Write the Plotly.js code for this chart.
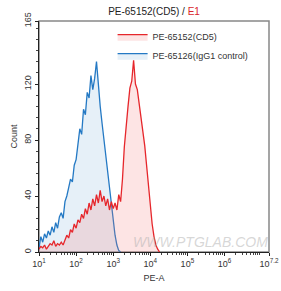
<!DOCTYPE html>
<html><head><meta charset="utf-8">
<script src="https://cdn.plot.ly/plotly-3.0.1.min.js"></script>
<style>html,body{margin:0;padding:0;background:#fff}#chart{width:281px;height:291px}</style>
</head><body><div id="chart"></div>
<script>
// bin positions (log10 of PE-A)
const redExp = [1.00,1.05,1.10,1.15,1.20,1.25,1.30,1.35,1.40,1.45,1.50,1.55,1.60,1.65,1.70,1.75,1.80,1.85,1.90,1.95,2.00,2.05,2.10,2.15,2.20,2.25,2.30,2.35,2.40,2.45,2.50,2.55,2.60,2.65,2.70,2.75,2.80,2.85,2.90,2.95,3.00,3.05,3.10,3.15,3.20,3.25,3.30,3.35,3.40,3.45,3.50,3.55,3.60,3.65,3.70,3.75,3.80,3.85,3.90,3.95,4.00,4.05,4.10,4.15,4.20,4.25];
const redCount = [2,4,3,5,2,4,6,5,8,4,6,5,7,5,9,12,10,16,14,20,17,23,21,27,24,31,27,35,30,38,33,41,35,44,36,40,33,38,30,36,31,35,30,41,36,52,75,92,104,117,122,137,120,116,106,100,86,76,62,48,32,20,11,5,2,0];
const blueExp = [1.00,1.05,1.10,1.15,1.20,1.25,1.30,1.35,1.40,1.45,1.50,1.55,1.60,1.65,1.70,1.75,1.80,1.85,1.90,1.95,2.00,2.05,2.10,2.15,2.20,2.25,2.30,2.35,2.40,2.45,2.50,2.55,2.60,2.65,2.70,2.75,2.80,2.85,2.90,2.95,3.00,3.05,3.10,3.15,3.20];
const blueCount = [3,11,7,13,10,15,12,18,14,21,17,25,28,24,36,40,46,52,50,62,66,78,88,84,102,98,114,110,126,116,124,136,118,104,92,80,72,60,46,34,22,12,5,1,0];
const redName = 'PE-65152(CD5)';
const blueName = 'PE-65126(IgG1 control)';
const xTickExp = [1,2,3,4,5,6,7.2];
const xTickText = ['10<sup>1</sup>','10<sup>2</sup>','10<sup>3</sup>','10<sup>4</sup>','10<sup>5</sup>','10<sup>6</sup>','10<sup>7.2</sup>'];
const yTicks = [0,40,80,120,165];

const toVal = a => a.map(e => Math.pow(10, e));
const minorX = [];
for (let k = 1; k <= 7; k++) for (let d = 2; d <= 9; d++) minorX.push(d * Math.pow(10, k));

const font = {family: 'Liberation Sans, Arial, sans-serif', size: 9, color: '#333'};
const data = [
  {x: toVal(blueExp), y: blueCount, name: blueName, type: 'scatter', mode: 'lines',
   line: {color: '#2479c4', width: 1.3}, fill: 'tozeroy', fillcolor: 'rgba(140,185,225,0.22)'},
  {x: toVal(redExp), y: redCount, name: redName, type: 'scatter', mode: 'lines',
   line: {color: '#e6262b', width: 1.3}, fill: 'tozeroy', fillcolor: 'rgba(245,120,120,0.2)'}
];
const layout = {
  width: 281, height: 291,
  margin: {l: 39, r: 12, t: 21, b: 39},
  paper_bgcolor: '#fff', plot_bgcolor: '#fff',
  font: font,
  showlegend: true,
  title: {text: 'PE-65152(CD5) / <span style="color:#d9262c">E1</span>', x: 0.5, xref: 'paper', y: 0.959, yanchor: 'middle',
          font: {family: 'Liberation Sans, Arial, sans-serif', size: 10, color: '#222'}},
  xaxis: {type: 'log', range: [1, 7.2], tickmode: 'array', tickvals: toVal(xTickExp), ticktext: xTickText,
          showgrid: false, zeroline: false, showline: true, linecolor: '#222', linewidth: 1,
          ticks: 'outside', ticklen: 3, tickcolor: '#222', tickfont: font,
          minor: {tickmode: 'array', tickvals: minorX, ticks: 'outside', ticklen: 2, tickcolor: '#444', showgrid: false},
          title: {text: 'PE-A', font: font, standoff: 6}},
  yaxis: {range: [0, 165], tickmode: 'array', tickvals: yTicks, ticktext: yTicks.map(String),
          tickangle: -90, showgrid: false, zeroline: false, showline: true, linecolor: '#222', linewidth: 1,
          ticks: 'outside', ticklen: 3, tickcolor: '#222', tickfont: font,
          minor: {dtick: 8, tick0: 0, ticks: 'outside', ticklen: 2, tickcolor: '#444', showgrid: false},
          title: {text: 'Count', font: font, standoff: 4}},
  legend: {x: 0.32, y: 0.995, xanchor: 'left', yanchor: 'top', traceorder: 'reversed',
           bgcolor: 'rgba(0,0,0,0)', font: {family: 'Liberation Sans, Arial, sans-serif', size: 9, color: '#333'},
           itemwidth: 30, tracegroupgap: 0},
  shapes: [{type: 'rect', xref: 'paper', yref: 'paper', x0: 0, x1: 1, y0: 0, y1: 1,
            line: {color: '#888', width: 1.5}, layer: 'below'}],
  annotations: [{text: '<i>WWW.PTGLAB.COM</i>', xref: 'paper', yref: 'paper', x: 0.70, y: 0.045,
                 xanchor: 'center', yanchor: 'middle',
                 showarrow: false, font: {family: 'Liberation Sans, Arial, sans-serif', size: 14, color: 'rgba(175,175,175,0.5)'}}]
};
Plotly.newPlot('chart', data, layout, {displayModeBar: false, staticPlot: true});
</script></body></html>
